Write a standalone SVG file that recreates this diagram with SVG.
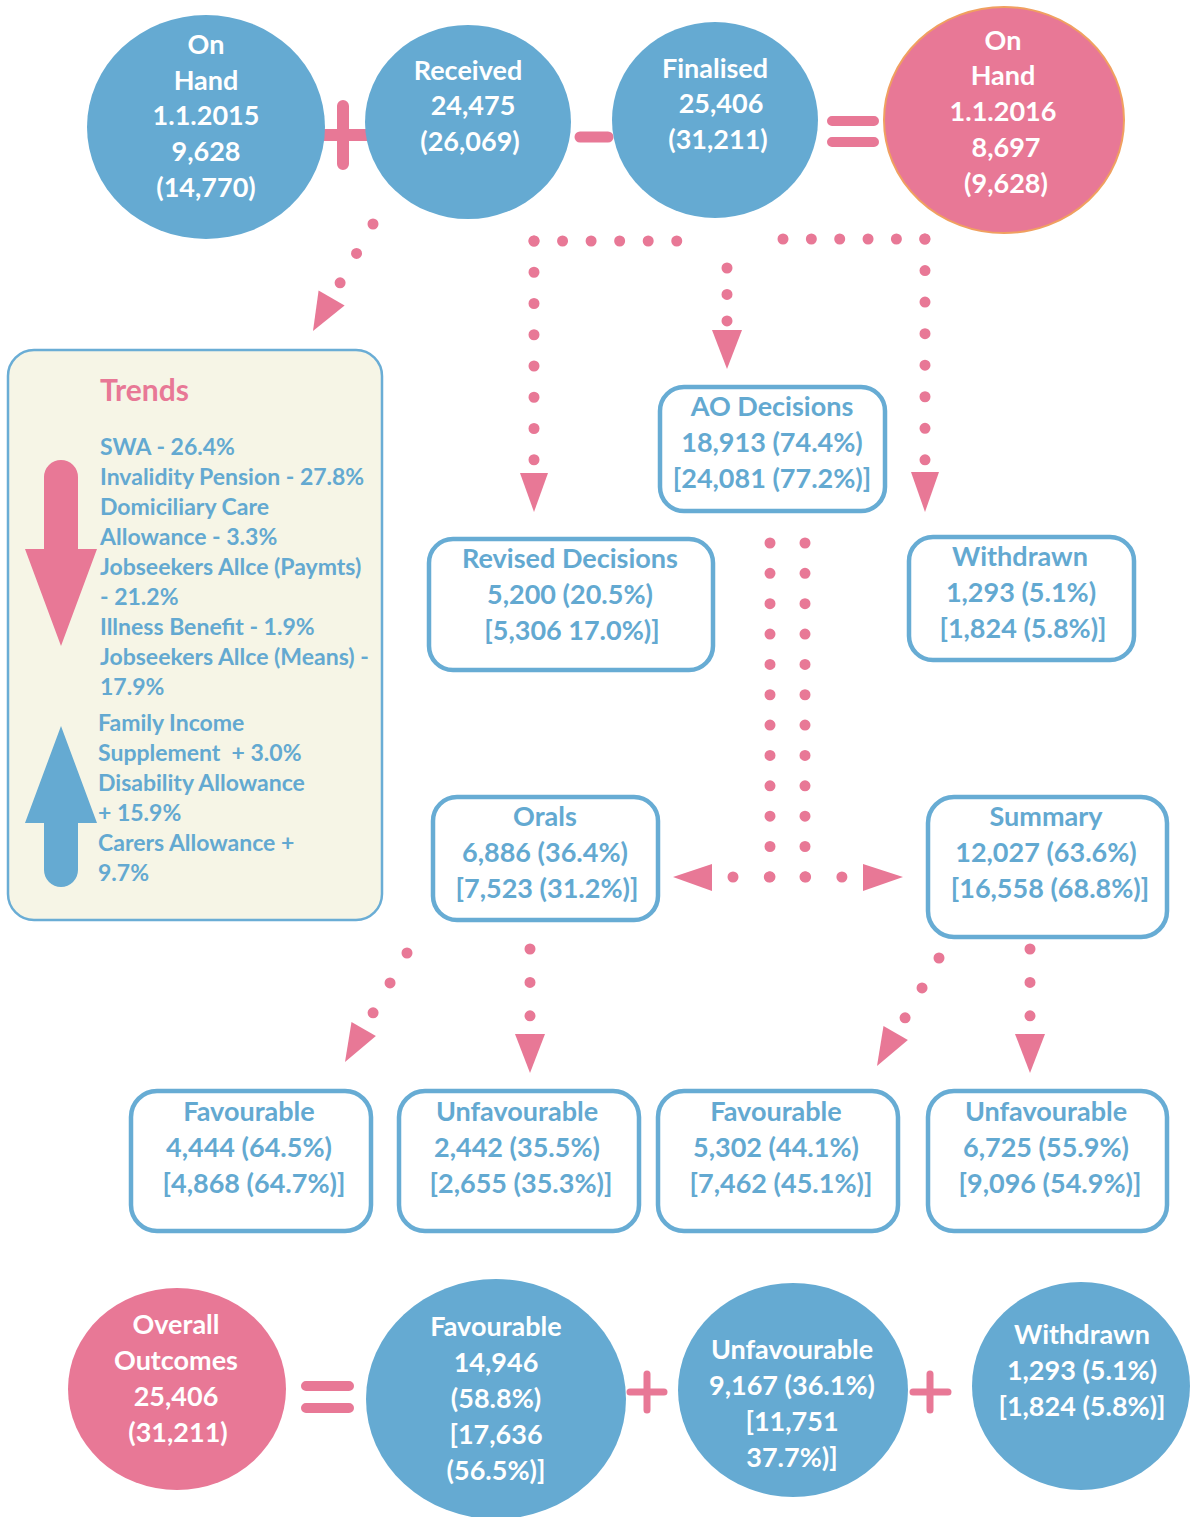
<svg xmlns="http://www.w3.org/2000/svg" width="1192" height="1517" viewBox="0 0 1192 1517">
<style>
  .bc{fill:#65aad2}
  .pc{fill:#e87896}
  .wt{fill:#ffffff;font-family:Lato,"Open Sans",sans-serif;font-weight:700;font-size:27px;text-anchor:middle}
  .box{fill:#ffffff;stroke:#67acd4;stroke-width:4.5}
  .bt{fill:#63a9d1;font-family:Lato,"Open Sans",sans-serif;font-weight:700;font-size:27px;text-anchor:middle}
  .tl{fill:#63a9d1;font-family:Lato,"Open Sans",sans-serif;font-weight:700;font-size:23px}
  .op{stroke:#e87896;stroke-linecap:round;fill:none}
  .dot{stroke:#e87896;stroke-width:11;stroke-linecap:round;fill:none}
  .ah{fill:#e87896}
</style>
<rect width="1192" height="1517" fill="#ffffff"/>

<!-- operators -->
<g id="operators">
  <path class="op" stroke-width="12" d="M314 135H372M343 106V164"/>
  <path class="op" stroke-width="11" d="M580 137H608"/>
  <path class="op" stroke-width="10" d="M832 121H874M832 142H874"/>
  <path class="op" stroke-width="10" d="M306 1386H349M306 1408H349"/>
  <path class="op" stroke-width="7" d="M630 1392H664M647 1374V1410"/>
  <path class="op" stroke-width="7" d="M913 1392H948M930 1374V1410"/>
</g>

<!-- connectors -->
<g id="connectors">
  <line class="dot" x1="373" y1="224" x2="340" y2="283" stroke-dasharray="0 33.7"/>
  <polygon class="ah" points="313,331 344.6,305.4 318.6,290.6"/>

  <line class="dot" x1="534" y1="241" x2="677" y2="241" stroke-dasharray="0 28.55"/>
  <line class="dot" x1="534" y1="241" x2="534" y2="460" stroke-dasharray="0 31.25"/>
  <polygon class="ah" points="520,473 548,473 534,512"/>

  <line class="dot" x1="727" y1="268" x2="727" y2="321" stroke-dasharray="0 26.45"/>
  <polygon class="ah" points="712,330 742,330 727,369"/>

  <line class="dot" x1="783" y1="239" x2="925" y2="239" stroke-dasharray="0 28.35"/>
  <line class="dot" x1="925" y1="239" x2="925" y2="460" stroke-dasharray="0 31.55"/>
  <polygon class="ah" points="911,472 939,472 925,512"/>

  <line class="dot" x1="770" y1="543" x2="770" y2="877" stroke-dasharray="0 30.35"/>
  <line class="dot" x1="805" y1="543" x2="805" y2="877" stroke-dasharray="0 30.35"/>
  <line class="dot" x1="733" y1="877" x2="842" y2="877" stroke-dasharray="0 36.3"/>
  <polygon class="ah" points="712,864 712,891 673,877"/>
  <polygon class="ah" points="863,864 863,891 903,877"/>

  <line class="dot" x1="407" y1="953" x2="373" y2="1013" stroke-dasharray="0 34.4"/>
  <polygon class="ah" points="345,1062 375.9,1035.9 351.5,1022.1"/>
  <line class="dot" x1="530" y1="949" x2="530" y2="1016" stroke-dasharray="0 33.4"/>
  <polygon class="ah" points="515,1034 545,1034 530,1073"/>

  <line class="dot" x1="939" y1="958" x2="905" y2="1018" stroke-dasharray="0 34.4"/>
  <polygon class="ah" points="877,1066 907.9,1039.9 883.5,1026.1"/>
  <line class="dot" x1="1030" y1="949" x2="1030" y2="1016" stroke-dasharray="0 33.4"/>
  <polygon class="ah" points="1015,1034 1045,1034 1030,1073"/>
</g>

<!-- top row -->
<g id="onhand2015">
  <ellipse class="bc" cx="206" cy="127" rx="119" ry="112"/>
  <text class="wt" x="206" y="54">On</text>
  <text class="wt" x="206" y="90">Hand</text>
  <text class="wt" x="206" y="125">1.1.2015</text>
  <text class="wt" x="206" y="161">9,628</text>
  <text class="wt" x="206" y="197">(14,770)</text>
</g>
<g id="received">
  <ellipse class="bc" cx="468" cy="122" rx="103" ry="97"/>
  <text class="wt" x="468" y="80">Received</text>
  <text class="wt" x="473" y="115">24,475</text>
  <text class="wt" x="470" y="151">(26,069)</text>
</g>
<g id="finalised">
  <ellipse class="bc" cx="715" cy="120" rx="103" ry="98"/>
  <text class="wt" x="715" y="78">Finalised</text>
  <text class="wt" x="721" y="113">25,406</text>
  <text class="wt" x="718" y="149">(31,211)</text>
</g>
<g id="onhand2016">
  <ellipse class="pc" cx="1004" cy="120" rx="120" ry="113" stroke="#f0a060" stroke-width="2"/>
  <text class="wt" x="1003" y="50">On</text>
  <text class="wt" x="1003" y="85">Hand</text>
  <text class="wt" x="1003" y="121">1.1.2016</text>
  <text class="wt" x="1006" y="157">8,697</text>
  <text class="wt" x="1006" y="193">(9,628)</text>
</g>

<!-- trends -->
<g id="trends">
  <rect x="8" y="350" width="374" height="570" rx="26" fill="#f6f5e6" stroke="#6aadd5" stroke-width="2.5"/>
  <text x="100" y="401" fill="#e87896" font-family="Lato,'Open Sans',sans-serif" font-weight="700" font-size="30">Trends</text>
  <path fill="#e87896" d="M44 477A17 17 0 0 1 78 477V549H97L61 646L25 549H44Z"/>
  <path fill="#65aad2" d="M61 726L97 823H78V870A17 17 0 0 1 44 870V823H25Z"/>
  <text class="tl" x="100" y="455">SWA - 26.4%</text>
  <text class="tl" x="100" y="485">Invalidity Pension - 27.8%</text>
  <text class="tl" x="100" y="515">Domiciliary Care</text>
  <text class="tl" x="100" y="545">Allowance - 3.3%</text>
  <text class="tl" x="100" y="575">Jobseekers Allce (Paymts)</text>
  <text class="tl" x="100" y="605">- 21.2%</text>
  <text class="tl" x="100" y="635">Illness Benefit - 1.9%</text>
  <text class="tl" x="100" y="665">Jobseekers Allce (Means) -</text>
  <text class="tl" x="100" y="695">17.9%</text>
  <text class="tl" x="98" y="731">Family Income</text>
  <text class="tl" x="98" y="761" xml:space="preserve">Supplement  + 3.0%</text>
  <text class="tl" x="98" y="791">Disability Allowance</text>
  <text class="tl" x="98" y="821">+ 15.9%</text>
  <text class="tl" x="98" y="851">Carers Allowance +</text>
  <text class="tl" x="98" y="881">9.7%</text>
</g>

<!-- boxes -->
<g id="ao-decisions">
  <rect class="box" x="660" y="387" width="225" height="124" rx="24"/>
  <text class="bt" x="772" y="416">AO Decisions</text>
  <text class="bt" x="772" y="452">18,913 (74.4%)</text>
  <text class="bt" x="772" y="488">[24,081 (77.2%)]</text>
</g>
<g id="revised-decisions">
  <rect class="box" x="429" y="539" width="284" height="131" rx="24"/>
  <text class="bt" x="570" y="568">Revised Decisions</text>
  <text class="bt" x="570" y="604">5,200 (20.5%)</text>
  <text class="bt" x="572" y="640">[5,306 17.0%)]</text>
</g>
<g id="withdrawn-box">
  <rect class="box" x="909" y="537" width="225" height="123" rx="24"/>
  <text class="bt" x="1020" y="566">Withdrawn</text>
  <text class="bt" x="1021" y="602">1,293 (5.1%)</text>
  <text class="bt" x="1023" y="638">[1,824 (5.8%)]</text>
</g>
<g id="orals">
  <rect class="box" x="433" y="797" width="225" height="123" rx="24"/>
  <text class="bt" x="545" y="826">Orals</text>
  <text class="bt" x="545" y="862">6,886 (36.4%)</text>
  <text class="bt" x="547" y="898">[7,523 (31.2%)]</text>
</g>
<g id="summary">
  <rect class="box" x="928" y="797" width="239" height="140" rx="26"/>
  <text class="bt" x="1046" y="826">Summary</text>
  <text class="bt" x="1046" y="862">12,027 (63.6%)</text>
  <text class="bt" x="1050" y="898">[16,558 (68.8%)]</text>
</g>
<g id="orals-favourable">
  <rect class="box" x="131" y="1091" width="240" height="140" rx="26"/>
  <text class="bt" x="249" y="1121">Favourable</text>
  <text class="bt" x="249" y="1157">4,444 (64.5%)</text>
  <text class="bt" x="254" y="1193">[4,868 (64.7%)]</text>
</g>
<g id="orals-unfavourable">
  <rect class="box" x="399" y="1091" width="240" height="140" rx="26"/>
  <text class="bt" x="517" y="1121">Unfavourable</text>
  <text class="bt" x="517" y="1157">2,442 (35.5%)</text>
  <text class="bt" x="521" y="1193">[2,655 (35.3%)]</text>
</g>
<g id="summary-favourable">
  <rect class="box" x="658" y="1091" width="240" height="140" rx="26"/>
  <text class="bt" x="776" y="1121">Favourable</text>
  <text class="bt" x="776" y="1157">5,302 (44.1%)</text>
  <text class="bt" x="781" y="1193">[7,462 (45.1%)]</text>
</g>
<g id="summary-unfavourable">
  <rect class="box" x="928" y="1091" width="239" height="140" rx="26"/>
  <text class="bt" x="1046" y="1121">Unfavourable</text>
  <text class="bt" x="1046" y="1157">6,725 (55.9%)</text>
  <text class="bt" x="1050" y="1193">[9,096 (54.9%)]</text>
</g>

<!-- bottom row -->
<g id="overall-outcomes">
  <ellipse class="pc" cx="177" cy="1389" rx="109" ry="101"/>
  <text class="wt" x="176" y="1334">Overall</text>
  <text class="wt" x="176" y="1370">Outcomes</text>
  <text class="wt" x="176" y="1406">25,406</text>
  <text class="wt" x="178" y="1442">(31,211)</text>
</g>
<g id="favourable-total">
  <ellipse class="bc" cx="496" cy="1399" rx="130" ry="120"/>
  <text class="wt" x="496" y="1336">Favourable</text>
  <text class="wt" x="496" y="1372">14,946</text>
  <text class="wt" x="496" y="1408">(58.8%)</text>
  <text class="wt" x="496" y="1444">[17,636</text>
  <text class="wt" x="496" y="1480">(56.5%)]</text>
</g>
<g id="unfavourable-total">
  <ellipse class="bc" cx="793" cy="1390" rx="115" ry="107"/>
  <text class="wt" x="792" y="1359">Unfavourable</text>
  <text class="wt" x="792" y="1395">9,167 (36.1%)</text>
  <text class="wt" x="792" y="1431">[11,751</text>
  <text class="wt" x="792" y="1467">37.7%)]</text>
</g>
<g id="withdrawn-total">
  <ellipse class="bc" cx="1081" cy="1386" rx="109" ry="104"/>
  <text class="wt" x="1082" y="1344">Withdrawn</text>
  <text class="wt" x="1082" y="1380">1,293 (5.1%)</text>
  <text class="wt" x="1082" y="1416">[1,824 (5.8%)]</text>
</g>
</svg>
